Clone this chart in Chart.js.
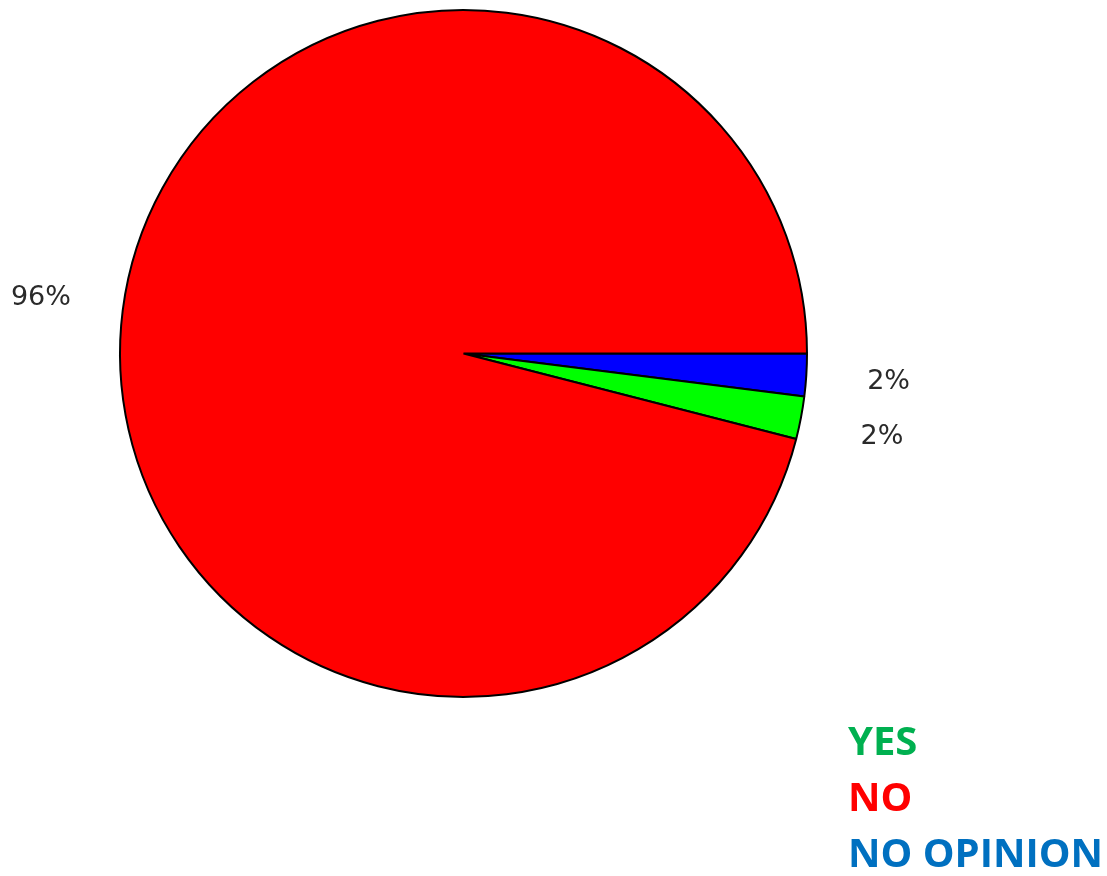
<!DOCTYPE html>
<html>
<head>
<meta charset="utf-8">
<title>Poll results</title>
<script src="https://cdn.jsdelivr.net/npm/chart.js@4/dist/chart.umd.min.js"></script>
<style>
    html, body { margin: 0; padding: 0; background: #fff; }
    #wrap { position: relative; width: 1107px; height: 876px; }
    #pie { position: absolute; left: 0; top: 0; }
    #legend {
        position: absolute; left: 848px; top: 712px;
        font-family: "Open Sans", sans-serif; font-weight: 700; font-size: 40px;
        line-height: 56px; white-space: nowrap;
    }
</style>
</head>
<body>
<div id="wrap">
    <canvas id="pie" width="1107" height="876"></canvas>
    <div id="legend"></div>
</div>
<script>
// Slices, starting at 3 o'clock and going clockwise
const categories = ['NO OPINION', 'YES', 'NO'];
const shares = [2, 2, 96];
const sliceColors = ['#0000FF', '#00FF00', '#FF0000'];

// Legend text below the pie
const legendLabels = ['YES', 'NO', 'NO OPINION'];
const legendColors = ['#00B050', '#FF0000', '#0070C0'];

// Percent labels drawn outside each slice
const outsideLabels = {
    id: 'outsideLabels',
    afterDatasetsDraw(chart) {
        const ctx = chart.ctx;
        const meta = chart.getDatasetMeta(0);
        const total = shares.reduce((a, b) => a + b, 0);
        ctx.save();
        ctx.font = '27px "DejaVu Sans", sans-serif';
        ctx.fillStyle = '#2a2a2a';
        ctx.textAlign = 'center';
        ctx.textBaseline = 'middle';
        meta.data.forEach((arc, i) => {
            const p = arc.getProps(['x', 'y', 'startAngle', 'endAngle', 'outerRadius'], true);
            const mid = (p.startAngle + p.endAngle) / 2;
            const x = p.x + Math.cos(mid) * p.outerRadius * 1.24;
            const y = p.y + Math.sin(mid) * p.outerRadius * 1.3;
            ctx.fillText(Math.round(shares[i] / total * 100) + '%', x, y);
        });
        ctx.restore();
    }
};

new Chart(document.getElementById('pie').getContext('2d'), {
    type: 'pie',
    data: {
        labels: categories,
        datasets: [{
            data: shares,
            backgroundColor: sliceColors,
            borderColor: '#000',
            borderWidth: 2
        }]
    },
    options: {
        responsive: false,
        animation: false,
        rotation: 90,
        layout: { padding: { left: 119, right: 299, top: 9, bottom: 178 } },
        plugins: {
            legend: { display: false },
            tooltip: { enabled: false }
        }
    },
    plugins: [outsideLabels]
});

// Coloured text legend
const legend = document.getElementById('legend');
legendLabels.forEach((name, i) => {
    const row = document.createElement('div');
    row.textContent = name;
    row.style.color = legendColors[i];
    legend.appendChild(row);
});
</script>
</body>
</html>
